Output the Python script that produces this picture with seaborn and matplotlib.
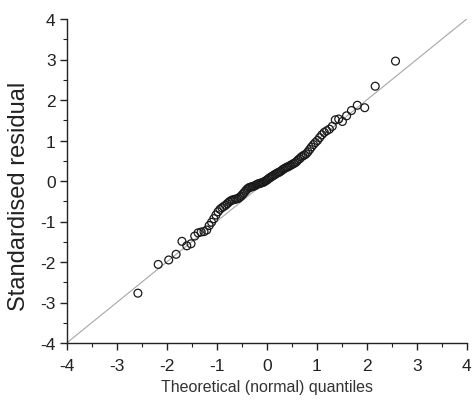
import matplotlib
matplotlib.use("Agg")
import matplotlib.pyplot as plt
from matplotlib.ticker import MultipleLocator
import seaborn as sns
import pandas as pd

# Theoretical (normal) quantiles
theoretical_q = [
    -2.576, -2.170, -1.960, -1.812, -1.695, -1.598, -1.514, -1.440, -1.372, -1.311,
    -1.254, -1.200, -1.150, -1.103, -1.058, -1.015, -0.974, -0.935, -0.896, -0.860,
    -0.824, -0.789, -0.755, -0.722, -0.690, -0.659, -0.628, -0.598, -0.568, -0.539,
    -0.510, -0.482, -0.454, -0.426, -0.399, -0.372, -0.345, -0.319, -0.292, -0.266,
    -0.240, -0.215, -0.189, -0.164, -0.138, -0.113, -0.088, -0.063, -0.038, -0.013,
    0.013, 0.038, 0.063, 0.088, 0.113, 0.138, 0.164, 0.189, 0.215, 0.240,
    0.266, 0.292, 0.319, 0.345, 0.372, 0.399, 0.426, 0.454, 0.482, 0.510,
    0.539, 0.568, 0.598, 0.628, 0.659, 0.690, 0.722, 0.755, 0.789, 0.824,
    0.860, 0.896, 0.935, 0.974, 1.015, 1.058, 1.103, 1.150, 1.200, 1.254,
    1.311, 1.372, 1.440, 1.514, 1.598, 1.695, 1.812, 1.960, 2.170, 2.576,
]

# Standardised residuals
std_residual = [
    -2.77, -2.06, -1.95, -1.81, -1.49, -1.60, -1.55, -1.36, -1.28, -1.26,
    -1.25, -1.21, -1.10, -1.02, -0.93, -0.84, -0.76, -0.70, -0.66, -0.63,
    -0.60, -0.56, -0.52, -0.49, -0.47, -0.46, -0.45, -0.44, -0.43, -0.40,
    -0.37, -0.33, -0.29, -0.25, -0.21, -0.18, -0.16, -0.15, -0.14, -0.13,
    -0.12, -0.10, -0.08, -0.07, -0.06, -0.05, -0.04, -0.03, -0.01, 0.01,
    0.03, 0.06, 0.08, 0.10, 0.12, 0.14, 0.16, 0.18, 0.20, 0.21,
    0.23, 0.25, 0.28, 0.30, 0.32, 0.34, 0.35, 0.37, 0.39, 0.41,
    0.43, 0.45, 0.48, 0.52, 0.55, 0.59, 0.62, 0.64, 0.67, 0.72,
    0.78, 0.84, 0.90, 0.95, 1.00, 1.07, 1.14, 1.20, 1.24, 1.28,
    1.35, 1.51, 1.53, 1.47, 1.61, 1.74, 1.87, 1.81, 2.34, 2.96,
]

# Reference line y = x
ref_line = [-4, 4]

axis_ticks = [-4, -3, -2, -1, 0, 1, 2, 3, 4]
x_label = "Theoretical (normal) quantiles"
y_label = "Standardised residual"

sns.set_theme(style="ticks")
plt.rcParams["font.family"] = ["Liberation Sans", "DejaVu Sans"]

df = pd.DataFrame({"q": theoretical_q, "r": std_residual})
ref_df = pd.DataFrame({"x": ref_line, "y": ref_line})

fig = plt.figure(figsize=(4.74, 4.06), dpi=100)
ax = fig.add_axes([66.7 / 474, 62 / 406, 400 / 474, 324 / 406])

sns.lineplot(data=ref_df, x="x", y="y", ax=ax, color="#a6a6a6", linewidth=0.8, zorder=1)
sns.scatterplot(data=df, x="q", y="r", ax=ax, marker="o", s=32,
                facecolors="none", edgecolor="#1a1a1a", linewidth=0.9, zorder=2)

ax.set_xlim(-4, 4)
ax.set_ylim(-4, 4)
ax.set_xticks(axis_ticks)
ax.set_yticks(axis_ticks)
ax.set_xticklabels([str(t) for t in axis_ticks])
ax.set_yticklabels([str(t) for t in axis_ticks])
ax.xaxis.set_minor_locator(MultipleLocator(0.5))
ax.yaxis.set_minor_locator(MultipleLocator(0.5))

for s in ["top", "right"]:
    ax.spines[s].set_visible(False)
for s in ["left", "bottom"]:
    ax.spines[s].set_color("#222222")
    ax.spines[s].set_linewidth(1.0)

ax.tick_params(axis="both", which="major", direction="out", length=5, width=1.0,
               color="#222222", labelsize=12.5, labelcolor="#222222", pad=3)
ax.tick_params(axis="x", which="major", pad=5.5)
ax.tick_params(axis="both", which="minor", direction="out", length=3, width=0.8,
               color="#222222")

ax.set_xlabel(x_label, fontsize=11.5, color="#333333")
ax.xaxis.set_label_coords(0.5, -0.11)
ax.set_ylabel(y_label, fontsize=17, color="#222222")
ax.yaxis.set_label_coords(-0.092, 0.455)

fig.savefig("out.png", dpi=100)
